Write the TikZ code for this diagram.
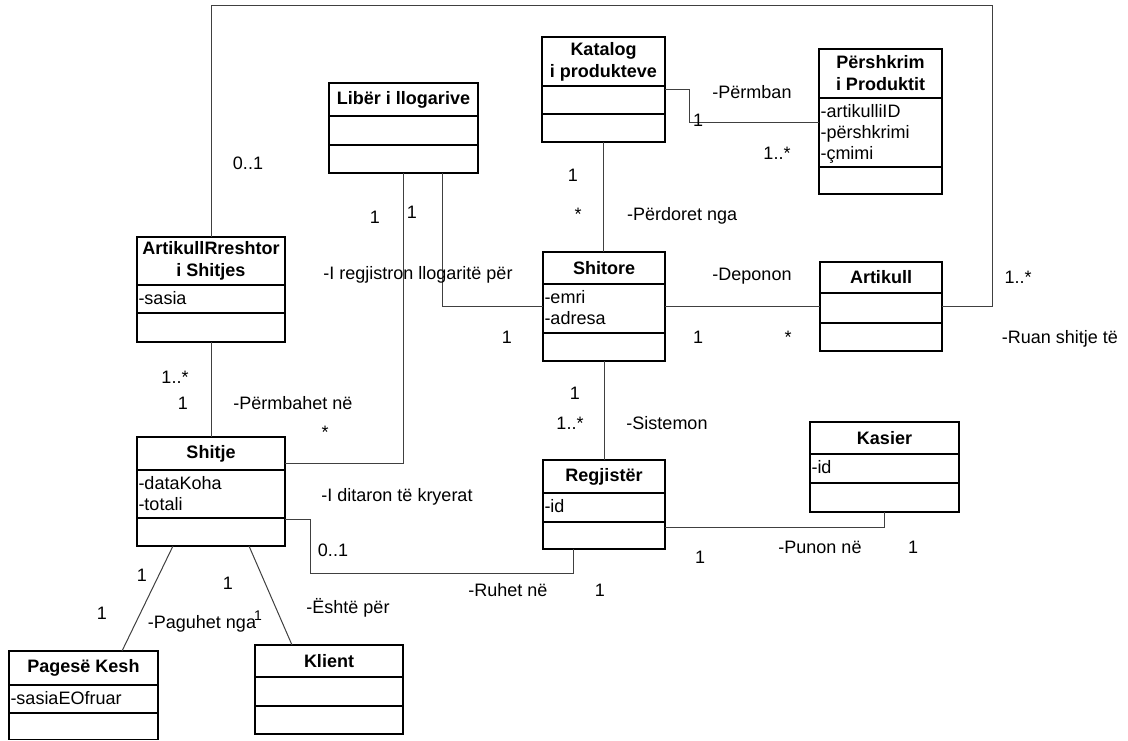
\documentclass[tikz,border=0pt]{standalone}
\usepackage{fontspec}
\setmainfont{Liberation Sans}
\begin{document}
% class box: name, left, top, right, header rule, attribute rule, bottom, title
\newcommand{\umlclass}[8]{%
  \node[classbox, anchor=north west, minimum width={(#4-#2)*1pt}, minimum height={(#7-#3)*1pt}] (#1) at (#2,#3) {};
  \draw[classrule] (#2,#5) -- (#4,#5) (#2,#6) -- (#4,#6);
  \node[classtitle] (#1-title) at ({(#2+#4)/2},{(#3+#5)/2}) {#8};
}
% attribute lines: name, left, header rule, list
\newcommand{\umlattrs}[4]{%
  \foreach \attrline [count=\ai] in {#4} {%
    \node[attrtext] (#1-attr\ai) at (#2+1.5,{#3+19.5+(\ai-1)*21}) {\attrline};}
}
\begin{tikzpicture}[x=1pt,y=-1pt,
  every node/.style={font=\fontsize{18}{22}\selectfont, inner sep=0pt, outer sep=0pt},
  classbox/.style={draw=black, line width=1.6pt, rectangle, fill=white},
  classrule/.style={draw=black, line width=1.6pt},
  classtitle/.style={font=\fontsize{18}{22}\selectfont\bfseries, align=center},
  attrtext/.style={anchor=base west},
  assoc/.style={draw=black!75, line width=1pt},
  lbl/.style={anchor=base},
  lblsmall/.style={anchor=base, font=\fontsize{14}{16}\selectfont},
]
\useasboundingbox (0,0) rectangle (1128,741);

% classes
\umlclass{katalog}{542}{37}{665}{86}{114}{142}{Katalog\\i produkteve}
\umlclass{pershkrim}{819}{49}{942}{98}{167}{194}{Përshkrim\\i Produktit}
\umlattrs{pershkrim}{819}{98}{-artikulliID,-përshkrimi,-çmimi}
\umlclass{liber}{329}{83}{478}{116}{145}{173}{Libër i llogarive}
\umlclass{artrr}{137}{237}{285}{285}{313}{342}{ArtikullRreshtor\\i Shitjes}
\umlattrs{artrr}{137}{285}{-sasia}
\umlclass{shitore}{543}{252}{665}{284}{333}{361}{Shitore}
\umlattrs{shitore}{543}{284}{-emri,-adresa}
\umlclass{artikull}{820}{262}{942}{293}{323}{351}{Artikull}
\umlclass{shitje}{137}{437}{285}{470}{518}{546}{Shitje}
\umlattrs{shitje}{137}{470}{-dataKoha,-totali}
\umlclass{regjister}{543}{460}{665}{493}{522}{549}{Regjistër}
\umlattrs{regjister}{543}{493}{-id}
\umlclass{kasier}{810}{422}{959}{454}{483}{512}{Kasier}
\umlattrs{kasier}{810}{454}{-id}
\umlclass{pagese}{9}{651}{158}{685}{713}{739.5}{Pagesë Kesh}
\umlattrs{pagese}{9}{685}{-sasiaEOfruar}
\umlclass{klient}{255}{645}{403}{677}{706}{734}{Klient}

% associations
\draw[assoc] (katalog.east |- 0,90) -| (689,123) -- (pershkrim.west |- 0,123);
\draw[assoc] (katalog.south) -- (katalog.south |- shitore.north);
\draw[assoc] (liber.south -| 442,0) |- (shitore.west);
\draw[assoc] (liber.south -| 403,0) |- (shitje.east |- 0,463);
\draw[assoc] (shitore.east) -- (artikull.west);
\draw[assoc] (artikull.east) -| (992,6) -| (artrr.north);
\draw[assoc] (shitore.south) -- (shitore.south |- regjister.north);
\draw[assoc] (artrr.south) -- (shitje.north);
\draw[assoc] (shitje.east |- 0,519) -| (310,573) -| (regjister.south -| 573,0);
\draw[assoc] (regjister.east |- 0,527) -| (kasier.south);
\draw[assoc] (shitje.south -| 173,0) -- (pagese.north -| 122,0);
\draw[assoc] (shitje.south -| 249,0) -- (klient.north -| 292,0);

% association names and multiplicities
\node[lbl] (l-permban) at (752,98.5) {-Përmban};
\node[lbl] (m-kp1) at (698,126.5) {1};
\node[lbl] (m-kp2) at (777,159.5) {1..*};
\node[lbl] (m-ks1) at (573,181.5) {1};
\node[lbl] (m-ks2) at (578,221) {*};
\node[anchor=base west] (l-perdoret) at (627,221) {-Përdoret nga};
\node[lbl] (m-ar1) at (248,170) {0..1};
\node[lbl] (m-ls1) at (375,223.5) {1};
\node[lbl] (m-ls2) at (412,218.5) {1};
\node[lbl] (l-regjistron) at (418,279.5) {-I regjistron llogaritë për};
\node[lbl] (l-deponon) at (752,280.5) {-Deponon};
\node[lbl] (m-ar2) at (1018,283) {1..*};
\node[lbl] (m-ls3) at (507,343.5) {1};
\node[lbl] (m-sa1) at (698,343.5) {1};
\node[lbl] (m-sa2) at (788,343.5) {*};
\node[lbl] (l-ruan) at (1060,343.5) {-Ruan shitje të};
\node[lbl] (m-as1) at (175,383.5) {1..*};
\node[lbl] (m-as2) at (183,409.5) {1};
\node[lbl] (l-permbahet) at (293,409.5) {-Përmbahet në};
\node[lbl] (m-ls4) at (325,438) {*};
\node[lbl] (m-sr1) at (575,399.5) {1};
\node[lbl] (m-sr2) at (570,429.5) {1..*};
\node[lbl] (l-sistemon) at (667,429.5) {-Sistemon};
\node[lbl] (l-ditaron) at (397,501.5) {-I ditaron të kryerat};
\node[lbl] (m-sh1) at (333,556.5) {0..1};
\node[lbl] (m-rk1) at (700,563.5) {1};
\node[lbl] (l-punon) at (820,553.5) {-Punon në};
\node[lbl] (m-rk2) at (913,553.5) {1};
\node[lbl] (l-ruhet) at (508,596.5) {-Ruhet në};
\node[lbl] (m-sh2) at (600,596.5) {1};
\node[lbl] (m-sp1) at (142,581.5) {1};
\node[lbl] (m-sk1) at (228,589.5) {1};
\node[lbl] (m-sp2) at (102,619.5) {1};
\node[lbl] (l-paguhet) at (202,628.5) {-Paguhet nga};
\node[lblsmall] (m-sk2) at (258,620) {1};
\node[lbl] (l-eshte) at (348,613.5) {-Është për};
\end{tikzpicture}
\end{document}
